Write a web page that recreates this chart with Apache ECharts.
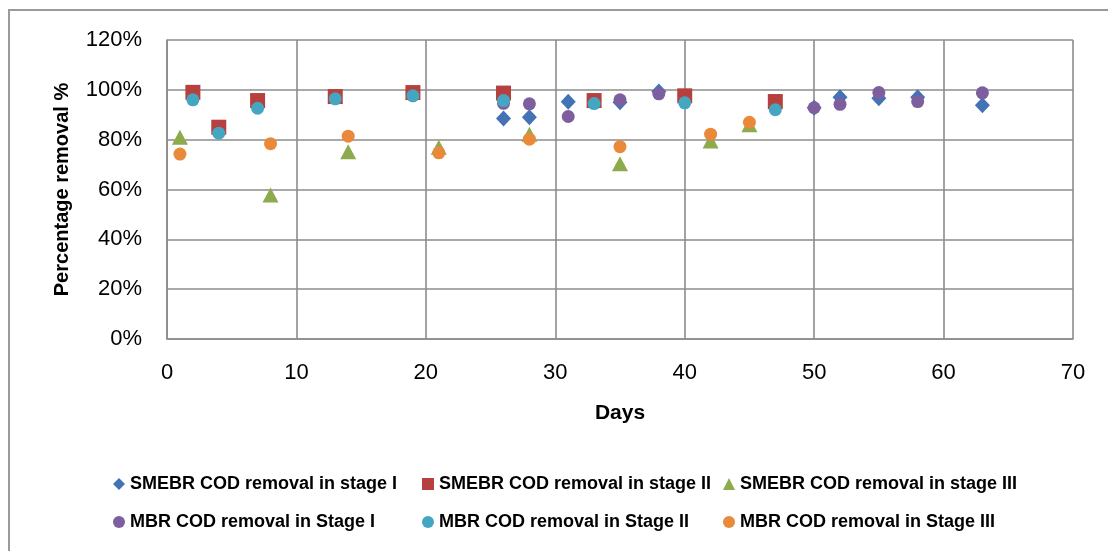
<!DOCTYPE html>
<html>
<head>
<meta charset="utf-8">
<script src="https://cdn.jsdelivr.net/npm/echarts@6/dist/echarts.min.js"></script>
<style>
html,body{margin:0;padding:0;background:#fff;}
#chart{width:1108px;height:551px;}
</style>
</head>
<body>
<div id="chart"></div>
<script>
// Data (days, fraction removed)
const smebrStage1Days = [26, 28, 31, 35, 38, 50, 52, 55, 58, 63];
const smebrStage1Vals = [0.885, 0.89, 0.952, 0.95, 0.993, 0.928, 0.97, 0.966, 0.97, 0.938];

const smebrStage2Days = [2, 4, 7, 13, 19, 26, 33, 40, 47];
const smebrStage2Vals = [0.99, 0.85, 0.957, 0.973, 0.989, 0.987, 0.957, 0.976, 0.953];

const smebrStage3Days = [1, 8, 14, 21, 28, 35, 42, 45];
const smebrStage3Vals = [0.81, 0.578, 0.752, 0.77, 0.822, 0.703, 0.795, 0.86];

const mbrStage1Days = [26, 28, 31, 35, 38, 50, 52, 55, 58, 63];
const mbrStage1Vals = [0.946, 0.944, 0.893, 0.96, 0.984, 0.928, 0.942, 0.989, 0.953, 0.988];

const mbrStage2Days = [2, 4, 7, 13, 19, 26, 33, 40, 47];
const mbrStage2Vals = [0.96, 0.826, 0.926, 0.964, 0.976, 0.957, 0.945, 0.948, 0.92];

const mbrStage3Days = [1, 8, 14, 21, 28, 35, 42, 45];
const mbrStage3Vals = [0.742, 0.784, 0.814, 0.747, 0.802, 0.772, 0.822, 0.87];

const seriesNames = [
  'SMEBR COD removal in stage I',
  'SMEBR COD removal in stage II',
  'SMEBR COD removal in stage III',
  'MBR COD removal in Stage I',
  'MBR COD removal in Stage II',
  'MBR COD removal in Stage III'
];

const yTicks = [0, 0.2, 0.4, 0.6, 0.8, 1.0, 1.2];
const xTicks = [0, 10, 20, 30, 40, 50, 60, 70];

const pair = (d, v) => d.map((x, i) => [x, v[i]]);

const colors = ['#4372B5', '#B5403D', '#8DAA4C', '#7D5E9F', '#44A6C0', '#E98A3A'];
const symbols = ['diamond', 'rect', 'triangle', 'circle', 'circle', 'circle'];
const sizes = [[15, 16], 15, [16, 15], 13, 13, 13];
const seriesData = [
  pair(smebrStage1Days, smebrStage1Vals),
  pair(smebrStage2Days, smebrStage2Vals),
  pair(smebrStage3Days, smebrStage3Vals),
  pair(mbrStage1Days, mbrStage1Vals),
  pair(mbrStage2Days, mbrStage2Vals),
  pair(mbrStage3Days, mbrStage3Vals)
];

const FONT = 'Liberation Sans';
const gridColor = '#8c8c8c';

const legendPos = [
  {left: 113, top: 475}, {left: 422, top: 475}, {left: 723, top: 475},
  {left: 113, top: 513}, {left: 422, top: 513}, {left: 723, top: 513}
];

const chart = echarts.init(document.getElementById('chart'), null, {renderer: 'canvas'});
chart.setOption({
  animation: false,
  backgroundColor: '#fff',
  graphic: [{
    type: 'rect',
    shape: {x: 9, y: 10, width: 1300, height: 700},
    style: {fill: 'none', stroke: '#9a9a9a', lineWidth: 2},
    silent: true
  }],
  grid: {left: 167, right: 35, top: 40, bottom: 212},
  xAxis: {
    type: 'value', min: 0, max: 70, interval: 10,
    name: 'Days', nameLocation: 'middle', nameGap: 64,
    nameTextStyle: {fontFamily: FONT, fontSize: 21, fontWeight: 'bold', color: '#000'},
    axisLine: {show: true, lineStyle: {color: gridColor, width: 1.6}},
    axisTick: {show: false},
    axisLabel: {fontFamily: FONT, fontSize: 22, color: '#000', margin: 23,
      formatter: v => xTicks.includes(v) ? String(v) : ''},
    splitLine: {show: true, lineStyle: {color: gridColor, width: 1.6}}
  },
  yAxis: {
    type: 'value', min: 0, max: 1.2, interval: 0.2,
    name: 'Percentage removal %', nameLocation: 'middle', nameGap: 95,
    nameTextStyle: {fontFamily: FONT, fontSize: 20, fontWeight: 'bold', color: '#000'},
    axisLine: {show: true, lineStyle: {color: gridColor, width: 1.6}},
    axisTick: {show: false},
    axisLabel: {fontFamily: FONT, fontSize: 22, color: '#000', margin: 25,
      formatter: v => {
        const t = yTicks.find(k => Math.abs(k - v) < 1e-6);
        return t === undefined ? '' : Math.round(t * 100) + '%';
      }},
    splitLine: {show: true, lineStyle: {color: gridColor, width: 1.6}}
  },
  legend: seriesNames.map((n, i) => ({
    data: [n],
    left: legendPos[i].left, top: legendPos[i].top,
    padding: 0, itemWidth: 12, itemHeight: 12, itemGap: 5,
    textStyle: {fontFamily: FONT, fontSize: 18, fontWeight: 'bold', color: '#000'}
  })),
  series: seriesNames.map((n, i) => ({
    name: n, type: 'scatter',
    symbol: symbols[i], symbolSize: sizes[i],
    itemStyle: {color: colors[i], opacity: 1},
    data: seriesData[i]
  }))
});
</script>
</body>
</html>
